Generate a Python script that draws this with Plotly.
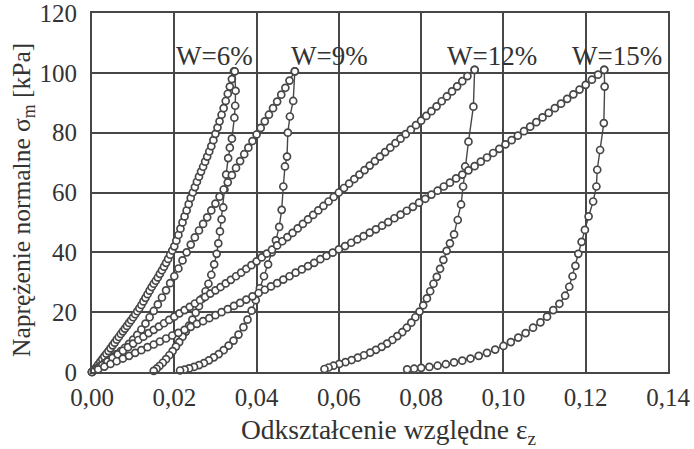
import plotly.graph_objects as go

# ---------------- data ----------------
w6_load_x = [0.0000, 0.0005, 0.0010, 0.0015, 0.0020, 0.0025, 0.0030, 0.0035, 0.0040, 0.0045,
             0.0050, 0.0055, 0.0060, 0.0065, 0.0070, 0.0075, 0.0080, 0.0085, 0.0090, 0.0095,
             0.0100, 0.0105, 0.0110, 0.0115, 0.0120, 0.0125, 0.0130, 0.0135, 0.0140, 0.0145,
             0.0150, 0.0155, 0.0160, 0.0165, 0.0170, 0.0175, 0.0180, 0.0185, 0.0190, 0.0195,
             0.0200, 0.0205, 0.0210, 0.0215, 0.0220, 0.0225, 0.0230, 0.0235, 0.0240, 0.0245,
             0.0250, 0.0255, 0.0260, 0.0265, 0.0270, 0.0275, 0.0280, 0.0285, 0.0290, 0.0295,
             0.0300, 0.0305, 0.0310, 0.0315, 0.0320, 0.0325, 0.0330, 0.0335, 0.0340, 0.0345]
w6_load_y = [0.0, 0.7, 1.5, 2.5, 3.4, 4.3, 5.2, 6.1, 7.0, 7.9,
             8.9, 9.8, 10.8, 11.7, 12.7, 13.6, 14.5, 15.4, 16.4, 17.3,
             18.3, 19.3, 20.3, 21.3, 22.4, 23.6, 24.8, 26.0, 27.2, 28.4,
             29.5, 30.5, 31.6, 32.8, 34.0, 35.2, 36.5, 37.8, 39.2, 40.6,
             42.0, 43.9, 45.8, 47.9, 50.0, 52.0, 54.0, 56.1, 58.2, 60.0,
             61.8, 63.6, 65.3, 67.0, 68.6, 70.3, 72.0, 73.7, 75.5, 77.5,
             79.6, 81.7, 83.8, 86.0, 88.2, 90.6, 93.0, 95.4, 97.9, 100.5]
w6_unl_x = [0.0347, 0.0349, 0.0348, 0.0346, 0.0340, 0.0335, 0.0331, 0.0326, 0.0322, 0.0319,
            0.0315, 0.0311, 0.0307, 0.0303, 0.0297, 0.0290, 0.0283, 0.0276, 0.0268, 0.0260,
            0.0252, 0.0244, 0.0236, 0.0228, 0.0220, 0.0212, 0.0204, 0.0196, 0.0188, 0.0180,
            0.0172, 0.0164, 0.0157, 0.0150]
w6_unl_y = [100.5, 94.0, 89.0, 85.0, 78.0, 75.0, 71.5, 66.0, 61.0, 55.0,
            51.0, 47.0, 43.0, 39.5, 36.0, 32.5, 29.5, 27.0, 24.5, 22.0,
            19.8, 17.5, 15.5, 13.5, 11.8, 10.0, 8.5, 7.0, 5.6, 4.3,
            3.1, 2.0, 1.1, 0.4]

w9_load_x = [0.0000, 0.0010, 0.0020, 0.0030, 0.0040, 0.0050, 0.0060, 0.0070, 0.0080, 0.0090,
             0.0100, 0.0110, 0.0120, 0.0130, 0.0140, 0.0150, 0.0160, 0.0170, 0.0180, 0.0190,
             0.0200, 0.0210, 0.0220, 0.0230, 0.0240, 0.0250, 0.0260, 0.0270, 0.0280, 0.0290,
             0.0300, 0.0310, 0.0320, 0.0330, 0.0340, 0.0350, 0.0360, 0.0370, 0.0380, 0.0390,
             0.0400, 0.0410, 0.0420, 0.0430, 0.0440, 0.0450, 0.0460, 0.0470, 0.0480, 0.0493]
w9_load_y = [0.0, 1.0, 2.0, 3.0, 4.0, 5.0, 6.0, 7.0, 8.1, 9.4,
             10.8, 12.4, 14.2, 16.2, 18.3, 20.4, 22.6, 24.9, 27.3, 29.7,
             32.0, 34.6, 37.3, 40.0, 42.6, 45.0, 47.3, 49.5, 51.7, 54.0,
             56.3, 58.6, 61.0, 63.4, 65.8, 68.2, 70.5, 72.8, 75.0, 77.2,
             79.4, 81.6, 83.8, 86.0, 88.2, 90.4, 92.7, 95.0, 97.4, 100.5]
w9_unl_x = [0.0493, 0.0489, 0.0481, 0.0476, 0.0474, 0.0469, 0.0465, 0.0461, 0.0455, 0.0447,
            0.0437, 0.0428, 0.0418, 0.0408, 0.0398, 0.0388, 0.0378, 0.0368, 0.0356, 0.0344,
            0.0332, 0.0320, 0.0308, 0.0296, 0.0284, 0.0272, 0.0260, 0.0248, 0.0236, 0.0225,
            0.0214]
w9_unl_y = [100.5, 90.6, 85.4, 80.0, 72.0, 68.7, 62.0, 54.2, 48.5, 44.0,
            40.0, 36.0, 32.0, 28.0, 24.0, 20.5, 17.5, 15.0, 12.5, 10.5,
            8.8, 7.3, 6.0, 4.9, 3.9, 3.0, 2.3, 1.7, 1.2, 0.8,
            0.5]

w12_load_x = [0.00000, 0.00125, 0.00250, 0.00375, 0.00500, 0.00625, 0.00750, 0.00875, 0.01000, 0.01125,
              0.01250, 0.01375, 0.01500, 0.01625, 0.01750, 0.01875, 0.02000, 0.02125, 0.02250, 0.02375,
              0.02500, 0.02625, 0.02750, 0.02875, 0.03000, 0.03125, 0.03250, 0.03375, 0.03500, 0.03625,
              0.03750, 0.03875, 0.04000, 0.04125, 0.04250, 0.04375, 0.04500, 0.04625, 0.04750, 0.04875,
              0.05000, 0.05125, 0.05250, 0.05375, 0.05500, 0.05625, 0.05750, 0.05875, 0.06000, 0.06125,
              0.06250, 0.06375, 0.06500, 0.06625, 0.06750, 0.06875, 0.07000, 0.07125, 0.07250, 0.07375,
              0.07500, 0.07625, 0.07750, 0.07875, 0.08000, 0.08125, 0.08250, 0.08375, 0.08500, 0.08625,
              0.08750, 0.08875, 0.09000, 0.09125, 0.09300]
w12_load_y = [0.0, 1.2, 2.3, 3.5, 4.7, 5.9, 7.1, 8.3, 9.5, 10.7,
              11.8, 13.0, 14.1, 15.2, 16.3, 17.4, 18.5, 19.6, 20.7, 21.8,
              22.9, 24.0, 25.1, 26.2, 27.3, 28.4, 29.6, 30.8, 32.0, 33.2,
              34.5, 35.7, 37.0, 38.3, 39.6, 40.9, 42.3, 43.7, 45.1, 46.5,
              48.0, 49.5, 51.0, 52.5, 54.0, 55.5, 57.0, 58.5, 60.0, 61.5,
              63.0, 64.5, 66.0, 67.5, 69.0, 70.5, 72.0, 73.5, 75.0, 76.5,
              78.0, 79.5, 81.0, 82.5, 84.0, 85.6, 87.2, 88.8, 90.5, 92.1,
              93.8, 95.5, 97.2, 98.9, 101.0]
w12_unl_x = [0.0930, 0.0927, 0.0915, 0.0907, 0.0902, 0.0897, 0.0889, 0.0880, 0.0870, 0.0862,
             0.0854, 0.0846, 0.0838, 0.0830, 0.0822, 0.0814, 0.0805, 0.0796, 0.0786, 0.0776,
             0.0765, 0.0754, 0.0742, 0.0730, 0.0717, 0.0704, 0.0690, 0.0676, 0.0661, 0.0646,
             0.0631, 0.0616, 0.0601, 0.0587, 0.0575, 0.0565]
w12_unl_y = [101.0, 88.7, 77.0, 68.7, 62.0, 56.0, 50.8, 46.0, 43.0, 40.5,
             37.5, 34.5, 31.8, 29.5, 27.0, 24.6, 22.3, 20.2, 18.3, 16.5,
             14.8, 13.3, 12.0, 10.7, 9.5, 8.4, 7.4, 6.5, 5.6, 4.8,
             4.0, 3.3, 2.7, 2.1, 1.5, 1.0]

w15_load_x = [0.0000, 0.0015, 0.0030, 0.0045, 0.0060, 0.0075, 0.0090, 0.0105, 0.0120, 0.0135,
              0.0150, 0.0165, 0.0180, 0.0195, 0.0210, 0.0225, 0.0240, 0.0255, 0.0270, 0.0285,
              0.0300, 0.0315, 0.0330, 0.0345, 0.0360, 0.0375, 0.0390, 0.0405, 0.0420, 0.0435,
              0.0450, 0.0465, 0.0480, 0.0495, 0.0510, 0.0525, 0.0540, 0.0555, 0.0570, 0.0585,
              0.0600, 0.0615, 0.0630, 0.0645, 0.0660, 0.0675, 0.0690, 0.0705, 0.0720, 0.0735,
              0.0750, 0.0765, 0.0780, 0.0795, 0.0810, 0.0825, 0.0840, 0.0855, 0.0870, 0.0885,
              0.0900, 0.0915, 0.0930, 0.0945, 0.0960, 0.0975, 0.0990, 0.1005, 0.1020, 0.1035,
              0.1050, 0.1065, 0.1080, 0.1095, 0.1110, 0.1125, 0.1140, 0.1155, 0.1170, 0.1185,
              0.1200, 0.1215, 0.1230, 0.1245]
w15_load_y = [0.0, 0.9, 1.8, 2.7, 3.6, 4.5, 5.4, 6.4, 7.3, 8.3,
              9.2, 10.2, 11.2, 12.2, 13.1, 14.1, 15.1, 16.1, 17.0, 18.0,
              19.0, 20.0, 21.0, 22.1, 23.1, 24.2, 25.3, 26.4, 27.5, 28.6,
              29.7, 30.9, 32.0, 33.2, 34.3, 35.4, 36.5, 37.7, 38.8, 39.9,
              41.0, 42.1, 43.2, 44.3, 45.4, 46.6, 47.7, 48.9, 50.1, 51.4,
              52.6, 53.9, 55.2, 56.6, 57.9, 59.3, 60.6, 62.0, 63.3, 64.7,
              66.0, 67.4, 68.8, 70.3, 71.7, 73.2, 74.6, 76.1, 77.5, 79.0,
              80.5, 82.0, 83.5, 85.1, 86.6, 88.2, 89.7, 91.3, 92.8, 94.4,
              96.0, 97.7, 99.4, 101.0]
w15_unl_x = [0.1245, 0.1246, 0.1244, 0.1235, 0.1228, 0.1226, 0.1218, 0.1207, 0.1198, 0.1190,
             0.1182, 0.1175, 0.1168, 0.1160, 0.1150, 0.1136, 0.1121, 0.1106, 0.1090, 0.1072,
             0.1054, 0.1036, 0.1018, 0.1000, 0.0980, 0.0960, 0.0940, 0.0920, 0.0900, 0.0880,
             0.0860, 0.0840, 0.0820, 0.0800, 0.0783, 0.0766]
w15_unl_y = [101.0, 95.4, 83.2, 74.2, 67.6, 62.0, 57.0, 52.0, 47.5, 43.5,
             39.5, 35.5, 32.0, 28.5, 25.5, 22.8, 20.7, 18.5, 16.6, 14.8,
             13.0, 11.5, 10.0, 8.7, 7.5, 6.4, 5.4, 4.5, 3.8, 3.2,
             2.6, 2.1, 1.7, 1.4, 1.1, 0.9]

series = [
    (w6_load_x, w6_load_y), (w6_unl_x, w6_unl_y),
    (w9_load_x, w9_load_y), (w9_unl_x, w9_unl_y),
    (w12_load_x, w12_load_y), (w12_unl_x, w12_unl_y),
    (w15_load_x, w15_load_y), (w15_unl_x, w15_unl_y),
]

labels = ["W=6%", "W=9%", "W=12%", "W=15%"]
label_x = [0.0298, 0.0578, 0.0972, 0.1277]
label_y = [105.5, 105.5, 105.5, 105.5]

x_ticks = [0.00, 0.02, 0.04, 0.06, 0.08, 0.10, 0.12, 0.14]
y_ticks = [0, 20, 40, 60, 80, 100, 120]

# ---------------- figure ----------------
INK = "#474747"
TXT = "#333333"
FONT = "Liberation Serif"

fig = go.Figure()
for xs, ys in series:
    fig.add_trace(go.Scatter(
        x=xs, y=ys, mode="lines+markers",
        line=dict(color=INK, width=1.4),
        marker=dict(symbol="circle", size=7, color="white",
                    line=dict(color=INK, width=1.7)),
        showlegend=False, cliponaxis=False, hoverinfo="skip",
    ))

for t, x, y in zip(labels, label_x, label_y):
    fig.add_annotation(x=x, y=y, text=t, showarrow=False,
                       font=dict(family=FONT, size=27, color=TXT),
                       xanchor="center", yanchor="middle")

fig.add_annotation(xref="paper", yref="paper", x=0.514, y=-0.167,
                   text="Odkształcenie względne ε<sub>z</sub>", showarrow=False,
                   font=dict(family=FONT, size=27.5, color=TXT),
                   xanchor="center", yanchor="middle")
fig.add_annotation(xref="paper", yref="paper", x=-0.1198, y=0.479,
                   text="Naprężenie normalne σ<sub>m</sub> [kPa]", showarrow=False,
                   textangle=-90,
                   font=dict(family=FONT, size=25.5, color=TXT),
                   xanchor="center", yanchor="middle")

axis_common = dict(
    showgrid=True, gridcolor=INK, gridwidth=1.8,
    showline=True, linecolor=INK, linewidth=2, mirror=True,
    zeroline=False, ticks="", automargin=False, ticklabeloverflow="allow",
    tickfont=dict(family=FONT, size=25, color=TXT),
)
fig.update_xaxes(range=[0, 0.14], tickvals=x_ticks, tickformat=".2f",
                 ticklabelstandoff=2, **axis_common)
fig.update_yaxes(range=[0, 120], tickvals=y_ticks, tickformat="d",
                 ticklabelstandoff=8, **axis_common)

fig.update_layout(
    width=694, height=449,
    margin=dict(l=92, r=26, t=13, b=77),
    paper_bgcolor="white", plot_bgcolor="white",
    separators=", ",
    font=dict(family=FONT, color=TXT),
)

fig.write_html(
    "out.html",
    config={"displayModeBar": False},
    post_script="document.body.style.margin='0';document.body.style.overflow='hidden';",
)
